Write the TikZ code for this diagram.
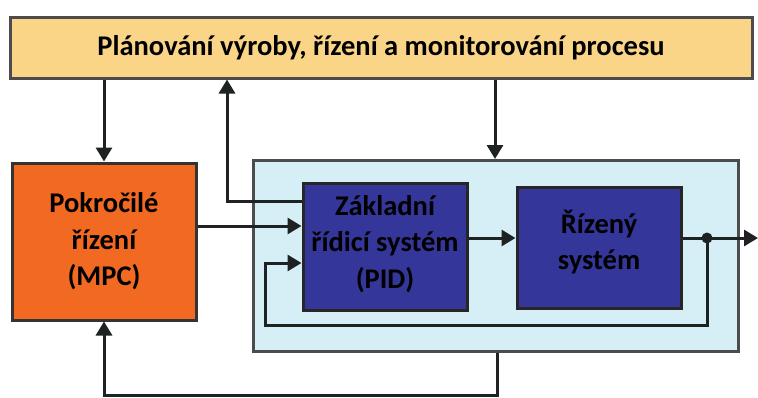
\documentclass[tikz,border=0pt]{standalone}
\usepackage{fontspec}
\setmainfont{Carlito}
\usetikzlibrary{arrows.meta}
\definecolor{planfill}{HTML}{FAD588}
\definecolor{mpcfill}{HTML}{F26A22}
\definecolor{pidfill}{HTML}{34369A}
\definecolor{loopfill}{HTML}{D6EEF5}
\definecolor{wire}{HTML}{1E2222}

\begin{document}
\begin{tikzpicture}[
	x=1pt, y=-1pt, line width=3pt,
	box/.style={draw, inner sep=0pt, align=center,
		font=\bfseries\fontsize{28.5}{36.5}\selectfont},
	arr/.style={draw=wire, -{Triangle[length=14pt,width=16pt]}}]
	%\draw [help lines] (0,0) grid[step=50] (758,397);
	\useasboundingbox (0,0) rectangle (758,397);
	\node[box, fill=planfill, draw=black!70, minimum width=742, minimum height=61] (plan) at (381,47.5) {Plánování výroby, řízení a monitorování procesu};
	\node[box, fill=mpcfill, draw=black!80, minimum width=184, minimum height=157] (mpc) at (104,241.5) {Pokročilé\\řízení\\(MPC)};
	\node[box, fill=loopfill, draw=black!70, minimum width=485, minimum height=191] (loop) at (495.5,256) {};
	\node[box, fill=pidfill, draw=black!85, minimum width=164, minimum height=127] (pid) at (385,246.5) {Základní\\řídicí systém\\(PID)\rule[-10pt]{0pt}{1pt}};
	\node[box, fill=pidfill, draw=black!85, minimum width=164, minimum height=121] (plant) at (599,247.5) {Řízený\\systém\rule[-15pt]{0pt}{1pt}};
	\coordinate (ret) at (227,201);
	\coordinate (cmd) at (0,226);
	\coordinate (sig) at (0,238);
	\coordinate (tap) at (707,238);
	\coordinate (out) at (758,238);
	\coordinate (fb) at (265,325);
	\coordinate (back) at (263,263);
	\coordinate (bot) at (497,395.5);
	\draw[arr] (plan.south -| mpc.north) -- (mpc.north);
	\draw[arr] (ret -| pid.west) -- (ret) -- (ret |- plan.south);
	\draw[arr] (plan.south -| 495,0) -- (495,0 |- loop.north);
	\draw[arr] (mpc.east |- cmd) -- (pid.west |- cmd);
	\draw[arr] (pid.east |- sig) -- (plant.west |- sig);
	\draw[arr] (plant.east |- sig) -- (out);
	\draw[arr] (tap) |- (fb) |- (pid.west |- back);
	\draw[arr] (bot |- loop.south) -- (bot) -| (mpc.south);
	\fill[wire] (tap) circle (5.5);
\end{tikzpicture}
\end{document}
